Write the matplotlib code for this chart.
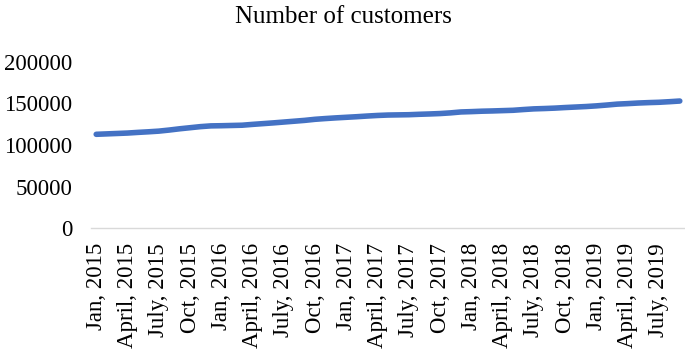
import matplotlib
matplotlib.use('Agg')
import matplotlib.pyplot as plt
import numpy as np

plt.rcParams['font.family'] = ['Liberation Serif', 'DejaVu Serif']

# monthly customers, Jan 2015 .. Sep 2019
customers = [112700, 113200, 113700, 114200, 115000, 115700, 116500, 117800,
             119300, 120600, 121900, 122800, 123000, 123300, 123600, 124600,
             125500, 126400, 127400, 128400, 129400, 130700, 131600, 132400,
             133100, 133800, 134600, 135300, 135800, 136000, 136200, 136700,
             137100, 137600, 138400, 139500, 139900, 140400, 140700, 141100,
             141500, 142400, 143200, 143600, 144100, 144800, 145400, 146000,
             146800, 147800, 148900, 149500, 150200, 150700, 151100, 151800,
             152600]
months = ['Jan', 'Feb', 'Mar', 'April', 'May', 'June', 'July', 'Aug',
          'Sep', 'Oct', 'Nov', 'Dec']
years = [2015, 2016, 2017, 2018, 2019]
labels = [m + ', ' + str(y) for y in years for m in months][:len(customers)]
yticks = [0, 50000, 100000, 150000, 200000]

fig = plt.figure(figsize=(6.85, 3.52), dpi=100)
ax = fig.add_axes([91/685, 1-228.3/352, 594/685, (228.3-61.5)/352])

x = np.arange(len(customers))
ax.plot(x, customers, color='#4472C4', lw=4.0, solid_capstyle='round',
        solid_joinstyle='round', clip_on=False)

# category axis, points sit between tick marks
ax.set_xlim(-0.5, len(customers)-0.5)
ax.set_ylim(0, 200000)
ax.set_yticks(yticks)
ax.set_yticklabels([str(v) for v in yticks], fontsize=16.5)
ax.set_xticks(x[::3])
ax.set_xticklabels(labels[::3], rotation=90, fontsize=16.5)
ax.tick_params(axis='y', length=0, pad=13.5)
ax.tick_params(axis='x', length=0, pad=10.5)

for s in ['top', 'right', 'left']:
    ax.spines[s].set_visible(False)
ax.spines['bottom'].set_color('#d9d9d9')
ax.spines['bottom'].set_linewidth(1.0)

fig.text(0.502, 1-22.7/352, 'Number of customers', ha='center', va='baseline',
         fontsize=18)

fig.savefig('out.png', dpi=100)
